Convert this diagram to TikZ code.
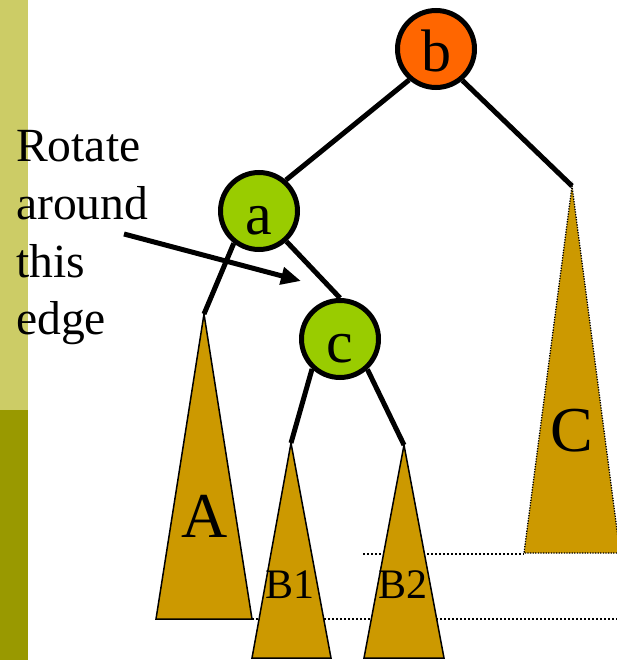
\documentclass[tikz,border=0pt]{standalone}
\usepackage{fontspec}
\setmainfont{Liberation Serif}
\usetikzlibrary{arrows.meta}
\definecolor{barlight}{HTML}{CCCC66}
\definecolor{bardark}{HTML}{999900}
\definecolor{tri}{HTML}{CC9900}
\definecolor{grn}{HTML}{99CC00}
\definecolor{org}{HTML}{FF6600}
\begin{document}
\begin{tikzpicture}[x=1pt,y=-1pt,
  vertex/.style={circle,draw=black,line width=5pt,minimum size=77pt,inner sep=0pt,text height=46pt,text depth=0pt,font=\fontsize{60}{60}\selectfont},
  edge/.style={line width=5pt},
  subtree/.style={fill=tri,draw=black,line width=1.5pt},
  dotline/.style={line width=1.5pt,dash pattern=on 1.5pt off 2.5pt},
  biglabel/.style={font=\fontsize{64}{64}\selectfont,inner sep=0pt,anchor=base},
  smalllabel/.style={font=\fontsize{42}{42}\selectfont,inner sep=0pt,anchor=base},
  note/.style={font=\fontsize{47.6}{57}\selectfont,inner sep=0pt,anchor=base west},
  pointer/.style={line width=5pt,-{Triangle[length=20pt,width=17pt]}}]
\useasboundingbox (0,0) rectangle (617,660);
\fill[barlight] (0,0) rectangle (28,410);
\fill[bardark] (0,410) rectangle (28,660);
% apex coordinates
\coordinate (Atop) at (204,314);
\coordinate (Ctop) at (572,186);
\coordinate (B1top) at (291,443);
\coordinate (B2top) at (404,445);
% dotted guide lines
\draw[dotline] (363,554) -- (524,554);
\draw[dotline] (252,619) -- (617,619);
% subtrees
\fill[tri] (Ctop) -- (524,553) -- (620,553) -- cycle;
\draw[dotline,line width=1.3pt,dash pattern=on 1.3pt off 1.3pt] (620,553) -- (Ctop) -- (524,553) -- (620,553);
\draw[subtree] (Atop) -- (156,619) -- (252,619) -- cycle;
\draw[subtree] (B1top) -- (252,658) -- (331,658) -- cycle;
\draw[subtree] (B2top) -- (364,658) -- (444,658) -- cycle;
% nodes
\node[vertex,fill=org] (b) at (436,49) {b};
\node[vertex,fill=grn] (a) at (259,211) {a};
\node[vertex,fill=grn] (c) at (340,339) {c};
% edges
\draw[edge] (b.229) -- (a.49);
\draw[edge] (b.310) -- (Ctop);
\draw[edge] (a.232) -- (Atop);
\draw[edge] (a.312) -- (c.north);
\draw[edge] (c.227) -- (B1top);
\draw[edge] (c.312) -- (B2top);
% subtree labels
\node[biglabel] (lA) at (205,537) {A};
\node[biglabel] (lC) at (572,451) {C};
\node[smalllabel] (lB1) at (290,598) {B1};
\node[smalllabel] (lB2) at (403,598) {B2};
% annotation
\node[note] (t1) at (16,162) {Rotate};
\node[note] (t2) at (16,219.5) {around};
\node[note] (t3) at (16,277) {this};
\node[note] (t4) at (16,334.5) {edge};
\coordinate (arrS) at (124,234);
\coordinate (arrE) at (301,281);
\draw[pointer] (arrS) -- (arrE);
\end{tikzpicture}
\end{document}
